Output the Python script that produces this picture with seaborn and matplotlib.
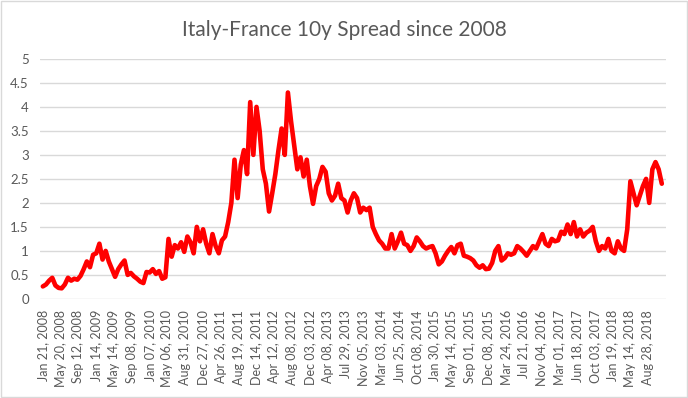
"""
Italy-France 10y spread since 2008.
Recreates the Excel style line chart with seaborn.
"""

# Imports
import numpy as np
import matplotlib
matplotlib.use('Agg')
import matplotlib.pyplot as plt
from matplotlib.patches import Rectangle
from matplotlib.ticker import FuncFormatter
import seaborn as sns

sns.set_style('white')
plt.rcParams['font.family'] = ['Lato', 'DejaVu Sans']

# Spread values (percentage points), read every 15 trading days
spread = [0.26, 0.30, 0.38, 0.44, 0.28, 0.23, 0.22, 0.30, 0.44, 0.38,
          0.42, 0.40, 0.48, 0.62, 0.78, 0.66, 0.92, 0.95, 1.15, 0.82,
          1.00, 0.78, 0.62, 0.46, 0.62, 0.72, 0.80, 0.50, 0.54, 0.47,
          0.42, 0.36, 0.33, 0.56, 0.55, 0.62, 0.52, 0.58, 0.42, 0.45,
          1.25, 0.88, 1.12, 1.05, 1.18, 0.98, 1.30, 1.18, 0.95, 1.50,
          1.20, 1.45, 1.15, 0.95, 1.35, 1.10, 0.95, 1.22, 1.30, 1.60,
          2.00, 2.90, 2.10, 2.80, 3.10, 2.60, 4.10, 3.00, 4.00, 3.50,
          2.70, 2.40, 1.82, 2.20, 2.60, 3.10, 3.55, 3.00, 4.30, 3.70,
          3.20, 2.70, 2.95, 2.55, 2.90, 2.35, 1.98, 2.35, 2.50, 2.75,
          2.65, 2.20, 2.05, 2.15, 2.40, 2.10, 2.05, 1.80, 2.05, 2.20,
          2.10, 1.80, 1.90, 1.85, 1.90, 1.50, 1.35, 1.22, 1.15, 1.05,
          1.05, 1.35, 1.05, 1.20, 1.38, 1.15, 1.12, 1.00, 1.10, 1.28,
          1.20, 1.10, 1.05, 1.08, 1.10, 0.95, 0.72, 0.78, 0.90, 1.00,
          1.08, 0.95, 1.12, 1.15, 0.90, 0.88, 0.85, 0.80, 0.70, 0.65,
          0.70, 0.62, 0.63, 0.75, 1.00, 1.10, 0.80, 0.85, 0.95, 0.92,
          0.95, 1.10, 1.05, 0.98, 0.90, 1.00, 1.10, 1.05, 1.20, 1.35,
          1.15, 1.10, 1.25, 1.20, 1.22, 1.40, 1.35, 1.55, 1.35, 1.60,
          1.30, 1.45, 1.30, 1.38, 1.42, 1.50, 1.20, 1.00, 1.10, 1.05,
          1.25, 1.00, 0.95, 1.20, 1.05, 1.00, 1.45, 2.45, 2.20, 1.95,
          2.15, 2.35, 2.50, 2.00, 2.70, 2.85, 2.70, 2.40]
step_days = 15

# Category labels shown every 85 trading days
date_labels = ['Jan 21, 2008', 'May 20, 2008', 'Sep 12, 2008',
               'Jan 14, 2009', 'May 14, 2009', 'Sep 08, 2009',
               'Jan 07, 2010', 'May 06, 2010', 'Aug 31, 2010',
               'Dec 27, 2010', 'Apr 26, 2011', 'Aug 19, 2011',
               'Dec 14, 2011', 'Apr 12, 2012', 'Aug 08, 2012',
               'Dec 03, 2012', 'Apr 08, 2013', 'Jul 29, 2013',
               'Nov 05, 2013', 'Mar 03, 2014', 'Jun 25, 2014',
               'Oct 08, 2014', 'Jan 30, 2015', 'May 14, 2015',
               'Sep 01, 2015', 'Dec 08, 2015', 'Mar 24, 2016',
               'Jul 21, 2016', 'Nov 04, 2016', 'Mar 01, 2017',
               'Jun 18, 2017', 'Oct 03, 2017', 'Jan 19, 2018',
               'May 14, 2018', 'Aug 28, 2018']
label_every = 85

day = np.arange(len(spread)) * step_days
grey_text = '#595959'
grid_col = '#d9d9d9'


def spread_plot():
    fig = plt.figure(figsize=(6.88, 3.98), dpi=100)
    ax = fig.add_axes([0.058, 0.249, 0.910, 0.603])

    sns.lineplot(x=day, y=spread, ax=ax, color='#ff0000',
                 linewidth=3.3, solid_joinstyle='round')

    # axes and grid like Excel
    ax.set_ylim(0, 5)
    ax.set_xlim(-14, 2975)
    ax.set_yticks(np.arange(0, 5.01, 0.5))
    ax.yaxis.set_major_formatter(FuncFormatter(lambda v, p: f'{v:g}'))
    ax.set_xticks(np.arange(len(date_labels)) * label_every)
    ax.set_xticklabels(date_labels, rotation=90)
    ax.grid(axis='y', color=grid_col, linewidth=1)
    ax.set_axisbelow(True)
    for s in ax.spines.values():
        s.set_visible(False)
    ax.tick_params(axis='both', length=0, colors=grey_text, labelsize=9)
    ax.tick_params(axis='y', pad=8, labelsize=9.5)
    ax.tick_params(axis='x', pad=8)

    fig.text(0.5, 0.925, 'Italy-France 10y Spread since 2008',
             ha='center', va='center', fontsize=15, color=grey_text)

    # light chart border
    fig.patches.append(Rectangle((0.001, 0.002), 0.997, 0.995,
                                 transform=fig.transFigure, fill=False,
                                 edgecolor=grid_col, linewidth=1))

    fig.savefig('out.png', dpi=100)


def main():
    spread_plot()


if __name__ == '__main__':
    main()
